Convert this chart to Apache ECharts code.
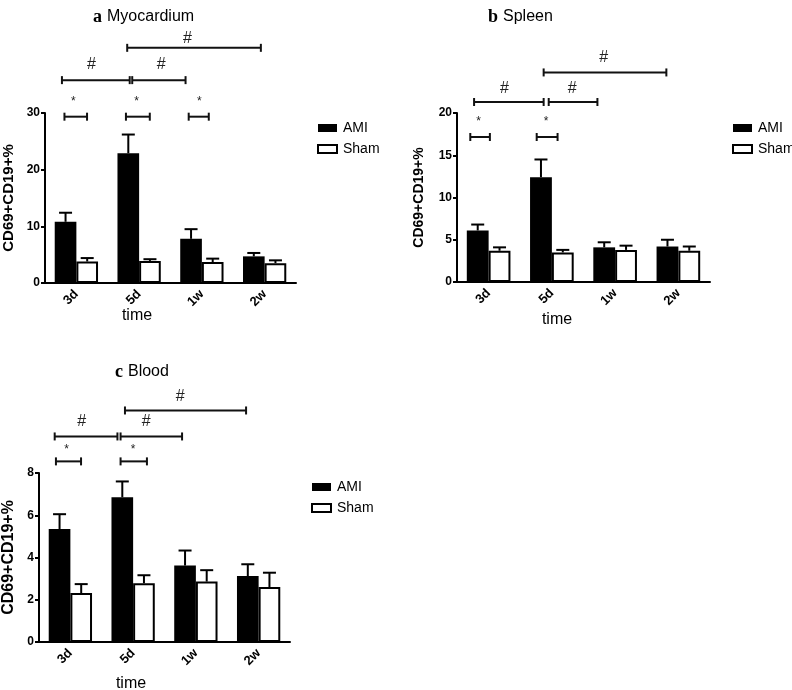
<!DOCTYPE html>
<html><head><meta charset="utf-8">
<script src="https://cdn.jsdelivr.net/npm/echarts@6/dist/echarts.min.js"></script>
<style>html,body{margin:0;padding:0;background:#fff}#c{width:792px;height:690px}</style>
</head><body><div id="c"></div>
<script>
// ---------- data ----------
const categories = ['3d', '5d', '1w', '2w'];
const seriesNames = ['AMI', 'Sham'];
const yTicksMax = [30, 20, 8];
const yTicksStep = [10, 5, 2];

// a Myocardium
const amiMyocardium = [10.8, 22.9, 7.8, 4.7];
const amiMyocardiumUpper = [12.4, 26.2, 9.5, 5.3];
const shamMyocardium = [3.8, 3.9, 3.7, 3.5];
const shamMyocardiumUpper = [4.4, 4.2, 4.3, 4.0];
// b Spleen
const amiSpleen = [6.1, 12.4, 4.1, 4.2];
const amiSpleenUpper = [6.8, 14.5, 4.7, 5.0];
const shamSpleen = [3.7, 3.5, 3.8, 3.7];
const shamSpleenUpper = [4.1, 3.8, 4.3, 4.2];
// c Blood
const amiBlood = [5.35, 6.85, 3.62, 3.12];
const amiBloodUpper = [6.05, 7.6, 4.33, 3.68];
const shamBlood = [2.32, 2.78, 2.86, 2.6];
const shamBloodUpper = [2.74, 3.16, 3.4, 3.28];

// significance brackets: [from, to] in category units (0 = first category centre), level in axis units
const sigMyocardium = [
  {mark: '*', from: -0.19, to: 0.17, level: 29.35, labelAt: -0.05, labelLevel: 32.5},
  {mark: '*', from: 0.79, to: 1.17, level: 29.35, labelAt: 0.96, labelLevel: 32.5},
  {mark: '*', from: 1.79, to: 2.11, level: 29.35, labelAt: 1.96, labelLevel: 32.5},
  {mark: '#', from: -0.23, to: 0.85, level: 35.8, labelAt: 0.24, labelLevel: 38.6},
  {mark: '#', from: 0.89, to: 1.74, level: 35.8, labelAt: 1.35, labelLevel: 38.6},
  {mark: '#', from: 0.81, to: 2.94, level: 41.5, labelAt: 1.77, labelLevel: 43.1}
];
const sigSpleen = [
  {mark: '*', from: -0.29, to: 0.02, level: 17.16, labelAt: -0.16, labelLevel: 19.3},
  {mark: '*', from: 0.76, to: 1.09, level: 17.16, labelAt: 0.91, labelLevel: 19.3},
  {mark: '#', from: -0.23, to: 0.87, level: 21.3, labelAt: 0.25, labelLevel: 22.9},
  {mark: '#', from: 0.95, to: 1.72, level: 21.3, labelAt: 1.32, labelLevel: 22.9},
  {mark: '#', from: 0.87, to: 2.81, level: 24.8, labelAt: 1.82, labelLevel: 26.6}
];
const sigBlood = [
  {mark: '*', from: -0.23, to: 0.17, level: 8.55, labelAt: -0.06, labelLevel: 9.26},
  {mark: '*', from: 0.8, to: 1.22, level: 8.55, labelAt: 1.0, labelLevel: 9.26},
  {mark: '#', from: -0.25, to: 0.75, level: 9.73, labelAt: 0.18, labelLevel: 10.44},
  {mark: '#', from: 0.8, to: 1.78, level: 9.73, labelAt: 1.21, labelLevel: 10.44},
  {mark: '#', from: 0.87, to: 2.8, level: 10.96, labelAt: 1.75, labelLevel: 11.6}
];

// ---------- layout / style ----------
const FONT = '"Liberation Sans", Arial, Helvetica, sans-serif';
const SERIF = '"Liberation Serif", "Times New Roman", serif';
const GAP = 0.31;
const panels = [
  {letter: 'a', name: 'Myocardium', ami: amiMyocardium, amiUp: amiMyocardiumUpper, sham: shamMyocardium, shamUp: shamMyocardiumUpper, sig: sigMyocardium,
   grid: {left: 42, top: 113, width: 254, height: 170}, title: {left: 88, top: 3}, legend: {left: 312, top: 116}, yName: {gap: 29, size: 15},
   time: [137, 316]},
  {letter: 'b', name: 'Spleen', ami: amiSpleen, amiUp: amiSpleenUpper, sham: shamSpleen, shamUp: shamSpleenUpper, sig: sigSpleen,
   grid: {left: 457, top: 113, width: 253, height: 169}, title: {left: 483, top: 3}, legend: {left: 727, top: 116}, yName: {gap: 31, size: 14},
   time: [557, 320]},
  {letter: 'c', name: 'Blood', ami: amiBlood, amiUp: amiBloodUpper, sham: shamBlood, shamUp: shamBloodUpper, sig: sigBlood,
   grid: {left: 34, top: 473, width: 256, height: 169}, title: {left: 110, top: 358}, legend: {left: 306, top: 475}, yName: {gap: 22, size: 16},
   time: [131, 684]}
];

function errRender(side) {
  return function (params, api) {
    const idx = api.value(0);
    const top = api.coord([idx, api.value(2)]);
    const base = api.coord([idx, api.value(1)]);
    const band = api.size([1, 0])[0];
    const barW = band * (1 - GAP) / 2;
    const x = top[0] + side * barW / 2;
    const cap = 6.5;
    return {type: 'group', children: [
      {type: 'line', shape: {x1: x, y1: base[1], x2: x, y2: top[1]}, style: {stroke: '#000', lineWidth: 2}},
      {type: 'line', shape: {x1: x - cap, y1: top[1], x2: x + cap, y2: top[1]}, style: {stroke: '#000', lineWidth: 2}}
    ]};
  };
}

const chart = echarts.init(document.getElementById('c'), null, {renderer: 'canvas'});
const option = {
  backgroundColor: '#fff', animation: false,
  title: [], legend: [], grid: [], xAxis: [], yAxis: [], series: []
};
panels.forEach((p, i) => {
  option.title.push({
    left: p.title.left, top: p.title.top,
    text: '{l|' + p.letter + '} {n|' + p.name + '}',
    textStyle: {fontWeight: 'normal', rich: {
      l: {fontFamily: SERIF, fontWeight: 'bold', fontSize: 18, color: '#000'},
      n: {fontFamily: FONT, fontWeight: 'normal', fontSize: 16, color: '#000'}
    }}
  });
  option.legend.push({
    left: p.legend.left, top: p.legend.top, orient: 'vertical', icon: 'rect',
    itemWidth: 19, itemHeight: 8, itemGap: 7,
    textStyle: {fontFamily: FONT, fontSize: 14, color: '#000', padding: [0, 0, 0, 1]},
    data: [
      {name: 'AMI', itemStyle: {color: '#000', borderWidth: 0}},
      {name: 'Sham', itemStyle: {color: '#fff', borderColor: '#000', borderWidth: 2}}
    ]
  });
  option.grid.push(Object.assign({containLabel: false}, p.grid));
  option.xAxis.push({
    type: 'category', gridIndex: i, data: categories,
    axisLine: {lineStyle: {color: '#000', width: 2}},
    axisTick: {alignWithLabel: true, length: 5, lineStyle: {color: '#000', width: 2}},
    axisLabel: {rotate: 45, margin: 9, fontFamily: FONT, fontWeight: 'bold', fontSize: 13, color: '#000'},
    splitLine: {show: false}
  });
  option.yAxis.push({
    type: 'value', gridIndex: i, min: 0, max: yTicksMax[i], interval: yTicksStep[i],
    name: 'CD69+CD19+%', nameLocation: 'middle', nameGap: p.yName.gap,
    nameTextStyle: {fontFamily: FONT, fontWeight: 'bold', fontSize: p.yName.size, color: '#000'},
    axisLine: {show: true, lineStyle: {color: '#000', width: 2}},
    axisTick: {show: true, length: 4, lineStyle: {color: '#000', width: 2}},
    axisLabel: {margin: 5, fontFamily: FONT, fontWeight: 'bold', fontSize: 12, color: '#000'},
    splitLine: {show: false}
  });
  option.series.push(
    {name: 'AMI', type: 'bar', xAxisIndex: i, yAxisIndex: i, data: p.ami, barGap: '0%', barCategoryGap: (GAP * 100) + '%',
     itemStyle: {color: '#000'}, z: 2},
    {name: 'Sham', type: 'bar', xAxisIndex: i, yAxisIndex: i, data: p.sham, barGap: '0%', barCategoryGap: (GAP * 100) + '%',
     itemStyle: {color: '#fff', borderColor: '#000', borderWidth: 2}, z: 2},
    {name: 'AMI error', type: 'custom', xAxisIndex: i, yAxisIndex: i, renderItem: errRender(-1), z: 3,
     encode: {x: 0, y: [1, 2]}, data: p.ami.map((v, k) => [k, v, p.amiUp[k]])},
    {name: 'Sham error', type: 'custom', xAxisIndex: i, yAxisIndex: i, renderItem: errRender(1), z: 3,
     encode: {x: 0, y: [1, 2]}, data: p.sham.map((v, k) => [k, v, p.shamUp[k]])}
  );
});
chart.setOption(option);

// annotations placed through the axes' own scales
const graphics = [];
panels.forEach((p, i) => {
  const toPx = (pos, val) => {
    const a = chart.convertToPixel({gridIndex: i}, [0, val]);
    const b = chart.convertToPixel({gridIndex: i}, [1, val]);
    return [a[0] + pos * (b[0] - a[0]), a[1]];
  };
  p.sig.forEach(s => {
    const l = toPx(s.from, s.level), r = toPx(s.to, s.level);
    const st = {stroke: '#111', lineWidth: 2};
    graphics.push({type: 'line', shape: {x1: l[0], y1: l[1], x2: r[0], y2: r[1]}, style: st, silent: true});
    graphics.push({type: 'line', shape: {x1: l[0], y1: l[1] - 4, x2: l[0], y2: l[1] + 4}, style: st, silent: true});
    graphics.push({type: 'line', shape: {x1: r[0], y1: r[1] - 4, x2: r[0], y2: r[1] + 4}, style: st, silent: true});
    const t = toPx(s.labelAt, s.labelLevel);
    const isStar = s.mark === '*';
    graphics.push({type: 'text', x: t[0], y: t[1] + (isStar ? 3 : 0), silent: true,
      style: {text: s.mark, fontFamily: FONT, fontSize: isStar ? 12 : 16, fill: '#222', align: 'center', verticalAlign: 'middle'}});
  });
  graphics.push({type: 'text', x: p.time[0], y: p.time[1], silent: true,
    style: {text: 'time', fontFamily: FONT, fontSize: 16, fill: '#000', align: 'center', verticalAlign: 'middle'}});
});
chart.setOption({graphic: graphics});
</script>
</body></html>
